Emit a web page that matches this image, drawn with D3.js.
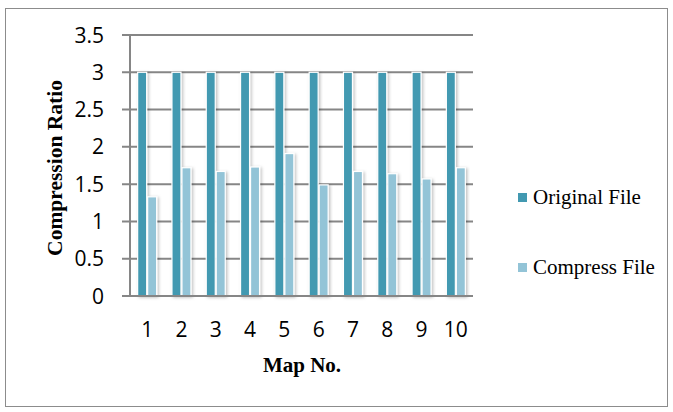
<!DOCTYPE html>
<html><head><meta charset="utf-8">
<script src="https://cdn.jsdelivr.net/npm/d3@7"></script>
<style>body{margin:0;background:#fff}svg{display:block}</style>
</head><body>
<script>
const categories = ["1","2","3","4","5","6","7","8","9","10"];
const originalFile = [3,3,3,3,3,3,3,3,3,3];
const compressFile = [1.33,1.72,1.67,1.73,1.91,1.49,1.67,1.64,1.57,1.72];
const yTicks = [0,0.5,1,1.5,2,2.5,3,3.5];
const seriesNames = ["Original File","Compress File"];
const colors = ["#4299b1","#93c4d7"];

const W=673,H=412;
const svg=d3.select("body").append("svg").attr("width",W).attr("height",H);
const defs=svg.append("defs");
const f=defs.append("filter").attr("id","sh").attr("x","-50%").attr("y","-10%").attr("width","200%").attr("height","120%");
f.append("feDropShadow").attr("dx",1.5).attr("dy",1).attr("stdDeviation",1.5).attr("flood-color","#000").attr("flood-opacity",0.25);

svg.append("rect").attr("x",5.5).attr("y",8.5).attr("width",662).attr("height",398).attr("fill","#fff").attr("stroke","#8c8c8c").attr("stroke-width",1);

const L=130,R=473,T=35,B=296;
const x=d3.scaleBand().domain(categories).range([L,R]);
const y=d3.scaleLinear().domain([0,3.5]).range([B,T]);

const tickFont="Open Sans, Liberation Sans, sans-serif";
const serif="Liberation Serif, Times New Roman, serif";

// gridlines
svg.append("g").selectAll("line").data(yTicks).join("line")
 .attr("x1",L-8).attr("x2",R).attr("y1",d=>y(d)).attr("y2",d=>y(d))
 .attr("stroke","#868686").attr("stroke-width",2);
// y axis line
svg.append("line").attr("x1",L).attr("x2",L).attr("y1",T).attr("y2",B).attr("stroke","#868686").attr("stroke-width",2);

// y tick labels
svg.append("g").selectAll("text").data(yTicks).join("text")
 .attr("x",104).attr("y",d=>y(d)).attr("dy","0.36em").attr("text-anchor","end")
 .attr("font-family",tickFont).attr("font-size",21).attr("fill","#000")
 .text(d=>d);

// bars
const bw=9;
const data=categories.map((c,i)=>({c,v:[originalFile[i],compressFile[i]]}));
const g=svg.append("g");
data.forEach(d=>{
  const cx=x(d.c)+x.bandwidth()/2;
  d.v.forEach((v,j)=>{
    g.append("rect").attr("x",j===0?cx-bw-0.5:cx+0.5).attr("y",y(v)).attr("width",bw).attr("height",B-y(v))
     .attr("fill",colors[j]).attr("stroke","#fff").attr("stroke-width",1.2).attr("filter","url(#sh)");
  });
});
// baseline over bars
svg.append("line").attr("x1",L-8).attr("x2",R).attr("y1",B).attr("y2",B).attr("stroke","#868686").attr("stroke-width",2);

// x labels
svg.append("g").selectAll("text").data(categories).join("text")
 .attr("x",d=>x(d)+x.bandwidth()/2).attr("y",329).attr("dy","0.36em").attr("text-anchor","middle")
 .attr("font-family",tickFont).attr("font-size",21).attr("fill","#000").text(d=>d);

svg.append("text").attr("x",302).attr("y",372).attr("text-anchor","middle")
 .attr("font-family",serif).attr("font-weight","bold").attr("font-size",21).text("Map No.");
svg.append("text").attr("transform","translate(62,168) rotate(-90)").attr("text-anchor","middle")
 .attr("font-family",serif).attr("font-weight","bold").attr("font-size",21.5).text("Compression Ratio");

// legend
const ly=[204,274];
seriesNames.forEach((n,i)=>{
  svg.append("rect").attr("x",518).attr("y",ly[i]-11).attr("width",9).attr("height",9).attr("fill",colors[i]);
  svg.append("text").attr("x",533).attr("y",ly[i]).attr("font-family",serif).attr("font-size",21).text(n);
});
</script>
</body></html>
